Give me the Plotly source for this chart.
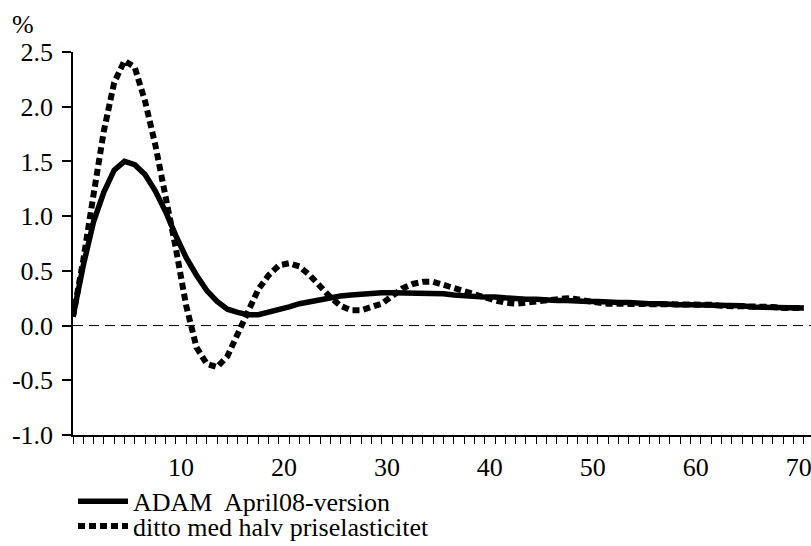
import plotly.graph_objects as go

periods = list(range(0, 72))

adam_april08 = [
    0.08, 0.55, 0.95, 1.22, 1.42, 1.50, 1.47, 1.38, 1.23, 1.04,
    0.82, 0.62, 0.46, 0.32, 0.22, 0.15, 0.12, 0.10, 0.10, 0.12,
    0.14, 0.17, 0.20, 0.22, 0.24, 0.26, 0.27, 0.28, 0.29, 0.30,
    0.30, 0.30, 0.30, 0.30, 0.30, 0.29, 0.29, 0.28, 0.27, 0.27,
    0.26, 0.26, 0.25, 0.25, 0.24, 0.24, 0.23, 0.23, 0.23, 0.22,
    0.22, 0.22, 0.21, 0.21, 0.21, 0.20, 0.20, 0.20, 0.19, 0.19,
    0.19, 0.19, 0.18, 0.18, 0.18, 0.18, 0.17, 0.17, 0.17, 0.17,
    0.16, 0.16,
]

halv_priselasticitet = [
    0.08, 0.60, 1.20, 1.78, 2.22, 2.42, 2.36, 2.05, 1.65, 1.20,
    0.70, 0.18, -0.20, -0.35, -0.38, -0.28, -0.08, 0.14, 0.33, 0.46,
    0.55, 0.57, 0.54, 0.46, 0.36, 0.26, 0.18, 0.14, 0.14, 0.17,
    0.20, 0.27, 0.34, 0.38, 0.40, 0.40, 0.37, 0.34, 0.31, 0.28,
    0.26, 0.23, 0.21, 0.20, 0.21, 0.22, 0.24, 0.25, 0.25, 0.24,
    0.22, 0.21, 0.20, 0.20, 0.19, 0.19, 0.19, 0.19, 0.19, 0.19,
    0.19, 0.19, 0.19, 0.18, 0.18, 0.18, 0.17, 0.17, 0.17, 0.16,
    0.16, 0.16,
]

x_tick_labels = [10, 20, 30, 40, 50, 60, 70]
y_tick_values = [-1.0, -0.5, 0.0, 0.5, 1.0, 1.5, 2.0, 2.5]

FONT = "Liberation Serif, DejaVu Serif, serif"

fig = go.Figure()
fig.add_trace(go.Scatter(
    x=periods, y=adam_april08, mode="lines",
    name="ADAM  April08-version",
    line=dict(color="black", width=5.5),
    legend="legend",
))
fig.add_trace(go.Scatter(
    x=periods, y=halv_priselasticitet, mode="lines",
    name="ditto med halv priselasticitet",
    line=dict(color="black", width=6, dash="7px,4px"),
    legend="legend2",
))

fig.add_shape(type="line", xref="paper", yref="y", x0=0, x1=1, y0=0, y1=0,
              line=dict(color="black", width=1, dash="10px,6px"))

fig.add_annotation(text="%", xref="paper", yref="paper", x=-0.0854, y=1.073,
                   xanchor="left", yanchor="middle", showarrow=False,
                   font=dict(family=FONT, size=26, color="black"))

fig.update_layout(
    template="none",
    width=811, height=546,
    margin=dict(l=73, r=0, t=52, b=111, autoexpand=False),
    paper_bgcolor="white", plot_bgcolor="white",
    font=dict(family=FONT, size=26, color="black"),
    showlegend=True,
    legend=dict(x=0.0, y=-0.173, xanchor="left", yanchor="middle",
                font=dict(family=FONT, size=26, color="black"),
                bgcolor="rgba(0,0,0,0)", itemwidth=50),
    legend2=dict(x=0.0, y=-0.238, xanchor="left", yanchor="middle",
                 font=dict(family=FONT, size=26, color="black"),
                 bgcolor="rgba(0,0,0,0)", itemwidth=50),
    xaxis=dict(
        range=[0, 71.7], showgrid=False, zeroline=False, automargin=False,
        showline=True, linecolor="black", linewidth=1.5,
        tickmode="array", tickvals=[v + 0.5 for v in x_tick_labels],
        ticktext=[str(v) for v in x_tick_labels],
        ticks="outside", ticklen=8, tickcolor="rgba(0,0,0,0)",
        ticklabeloverflow="allow",
        minor=dict(dtick=1, tick0=0, ticks="outside", ticklen=7,
                   tickcolor="black", tickwidth=1, showgrid=False),
        tickfont=dict(family=FONT, size=26, color="black"),
    ),
    yaxis=dict(
        range=[-1.0, 2.5], showgrid=False, zeroline=False, automargin=False,
        showline=True, linecolor="black", linewidth=1.5,
        tickmode="array", tickvals=y_tick_values,
        ticktext=[f"{v:.1f}" for v in y_tick_values],
        ticks="outside", ticklen=9, tickcolor="black", tickwidth=1.5,
        ticklabelstandoff=4,
        tickfont=dict(family=FONT, size=26, color="black"),
    ),
)

fig.write_html("out.html", config={"displayModeBar": False},
               post_script="document.body.style.margin='0';document.body.style.padding='0';")
